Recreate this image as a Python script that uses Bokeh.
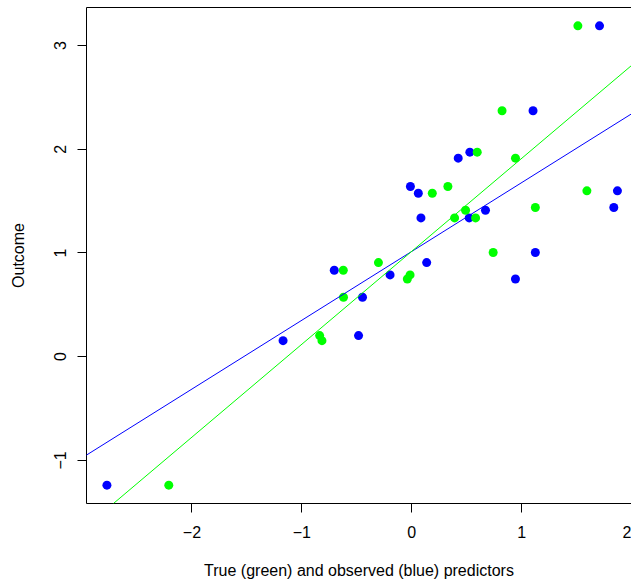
import numpy as np
from bokeh.plotting import figure
from bokeh.models import Slope, FixedTicker, LinearAxis, Range1d
from bokeh.embed import file_html
from bokeh.resources import INLINE

# ---- data ----
outcome = [3.19, 2.371, 1.972, 1.914, 1.641, 1.576, 1.599, 1.438, 1.412, 1.338,
           1.338, 1.004, 0.907, 0.833, 0.788, 0.749, 0.573, 0.203, 0.154, -1.239]
true_x = [1.512, 0.822, 0.596, 0.944, 0.329, 0.187, 1.594, 1.125, 0.49, 0.39,
          0.581, 0.741, -0.303, -0.623, -0.015, -0.04, -0.621, -0.838, -0.817, -2.211]
obs_x = [1.709, 1.104, 0.529, 0.423, -0.012, 0.06, 1.872, 1.839, 0.671, 0.084,
         0.523, 1.125, 0.136, -0.705, -0.197, 0.944, -0.448, -0.484, -1.171, -2.774]

x_ticks = [-2, -1, 0, 1, 2]
x_tick_labels = ["\u22122", "\u22121", "0", "1", "2"]
y_ticks = [-1, 0, 1, 2, 3]
y_tick_labels = ["\u22121", "0", "1", "2", "3"]

x_label = "True (green) and observed (blue) predictors"
y_label = "Outcome"

FONT = "Liberation Sans"

# R-style 4% range extension on y; x range cut at window edge
ymin, ymax = min(outcome), max(outcome)
ext = 0.04 * (ymax - ymin)
xmin = min(obs_x + true_x)
xext = 0.04 * (max(obs_x + true_x) - xmin)

p = figure(width=631, height=583, output_backend="svg", toolbar_location=None,
           x_range=Range1d(xmin - xext, 2.0), y_range=Range1d(ymin - ext, ymax + ext),
           min_border_left=86, min_border_right=0, min_border_top=7, min_border_bottom=80)
p.xgrid.visible = False
p.ygrid.visible = False
p.outline_line_color = None
p.background_fill_color = "white"
p.border_fill_color = "white"

for ax, ticks, labels in ((p.xaxis[0], x_ticks, x_tick_labels), (p.yaxis[0], y_ticks, y_tick_labels)):
    ax.ticker = FixedTicker(ticks=ticks)
    ax.major_label_overrides = {t: l for t, l in zip(ticks, labels)}
    ax.minor_tick_line_color = None
    ax.major_tick_in = 0
    ax.major_tick_out = 9
    ax.major_tick_line_color = "black"
    ax.axis_line_color = "black"
    ax.major_label_text_font = FONT
    ax.major_label_text_font_size = "16px"
    ax.major_label_text_color = "black"
    ax.axis_label_text_font = FONT
    ax.axis_label_text_font_size = "16px"
    ax.axis_label_text_font_style = "normal"
    ax.axis_label_text_color = "black"

p.xaxis[0].axis_label = x_label
p.xaxis[0].major_label_standoff = 13
p.xaxis[0].axis_label_standoff = 21
p.yaxis[0].axis_label = y_label
p.yaxis[0].major_label_orientation = "parallel"
p.yaxis[0].major_label_standoff = 11
p.yaxis[0].axis_label_standoff = 25

top = LinearAxis(ticker=FixedTicker(ticks=[]), major_tick_out=0, major_tick_in=0,
                 minor_tick_out=0, minor_tick_in=0, major_label_standoff=0,
                 axis_line_color="black")
p.add_layout(top, "above")

p.scatter(obs_x, outcome, size=9, color="#0000FF", line_color=None)
p.scatter(true_x, outcome, size=9, color="#00FF00", line_color=None)

b_obs = np.polyfit(obs_x, outcome, 1)
b_true = np.polyfit(true_x, outcome, 1)
p.add_layout(Slope(gradient=float(b_obs[0]), y_intercept=float(b_obs[1]),
                   line_color="#0000FF", line_width=1))
p.add_layout(Slope(gradient=float(b_true[0]), y_intercept=float(b_true[1]),
                   line_color="#00FF00", line_width=1))

open("out.html", "w").write(file_html(p, INLINE))
